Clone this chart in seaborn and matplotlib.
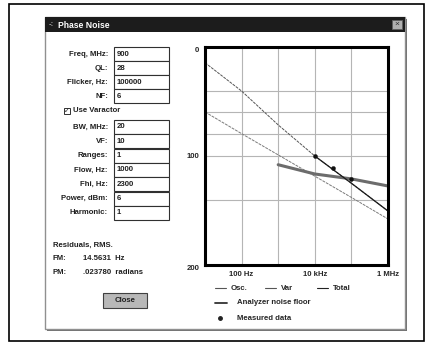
import matplotlib
matplotlib.use("Agg")
import matplotlib.pyplot as plt
from matplotlib.patches import Rectangle
import seaborn as sns

# values (y = dB below carrier, 0 at top, 200 at bottom)
freq = [10, 100, 1000, 10000, 100000, 1000000]
osc = [14.4, 40.4, 71.5, 100, 125, 150.5]
var = [59.6, 79.5, 99, 118.5, 138, 157.8]
total_freq = [10000, 100000, 1000000]
total = [100, 125, 150.5]
floor_freq = [1000, 10000, 100000, 1000000]
floor = [108, 116.5, 121, 127.5]
meas_freq = [10000, 31600, 100000]
meas = [100, 111, 121]

x_ticks = [100, 10000, 1000000]
x_labels = ["100 Hz", "10 kHz", "1 MHz"]
y_ticks = [0, 100, 200]
y_grid = [40, 60, 80, 100, 140]
x_grid = [100, 1000, 10000, 100000]

field_labels = ["Freq, MHz:", "QL:", "Flicker, Hz:", "NF:",
                "BW, MHz:", "VF:", "Ranges:", "Flow, Hz:", "Fhi, Hz:",
                "Power, dBm:", "Harmonic:"]
field_values = ["900", "28", "100000", "6",
                "20", "10", "1", "1000", "2300", "6", "1"]

sns.set_style("white")
plt.rcParams['font.family'] = ['Liberation Sans', 'DejaVu Sans']

W, H = 425, 350
fig = plt.figure(figsize=(W / 100, H / 100), dpi=100)
fig.patch.set_facecolor("white")

# background canvas in pixel units for the dialog chrome
bg = fig.add_axes([0, 0, 1, 1])
bg.set_xlim(0, W)
bg.set_ylim(H, 0)
bg.axis("off")

fs = 5.6
ink = "#202020"
bg.add_patch(Rectangle((9, 4), 415, 337, fill=False, ec="black", lw=1.2))
# dialog window
bg.add_patch(Rectangle((47, 19), 360, 312, fc="#707070", ec="none"))
bg.add_patch(Rectangle((45, 17), 360, 312, fc="white", ec="#909090", lw=1))
bg.add_patch(Rectangle((45, 17), 360, 15, fc="#1c1c1c", ec="none"))
bg.text(49, 25, "-:", color="#bbbbbb", fontsize=fs, va="center", fontweight="bold")
bg.text(58, 25, "Phase Noise", color="white", fontsize=6.2, va="center", fontweight="bold")
bg.add_patch(Rectangle((392, 20), 10, 9, fc="#b0b0b0", ec="#606060", lw=0.6))
bg.text(397, 24.8, "×", fontsize=6, ha="center", va="center", color="#303030")

# form fields
rows = [54 + 14 * i for i in range(4)] + [127 + 14.3 * i for i in range(7)]
for lab, val, yc in zip(field_labels, field_values, rows):
    bg.text(108, yc, lab, ha="right", va="center", fontsize=fs, fontweight="bold", color=ink)
    bg.add_patch(Rectangle((114, yc - 7), 55, 14, fc="white", ec="#303030", lw=0.8))
    bg.text(116.5, yc, val, ha="left", va="center", fontsize=fs, fontweight="bold", color=ink)

bg.add_patch(Rectangle((64, 108), 6, 6, fc="white", ec="#303030", lw=0.7))
bg.text(67, 111, "✓", ha="center", va="center", fontsize=5, family="DejaVu Sans")
bg.text(73, 111, "Use Varactor", va="center", fontsize=fs, fontweight="bold", color=ink)

bg.text(53, 245, "Residuals, RMS.", va="center", fontsize=fs, fontweight="bold", color=ink)
bg.text(53, 259, "FM:", va="center", fontsize=fs, fontweight="bold", color=ink)
bg.text(83, 259, "14.5631  Hz", va="center", fontsize=fs, fontweight="bold", color=ink)
bg.text(53, 273, "PM:", va="center", fontsize=fs, fontweight="bold", color=ink)
bg.text(83, 273, ".023780  radians", va="center", fontsize=fs, fontweight="bold", color=ink)

bg.add_patch(Rectangle((103, 293), 44, 15, fc="#b8b8b8", ec="#404040", lw=0.8))
bg.text(125, 300.5, "Close", ha="center", va="center", fontsize=fs, fontweight="bold", color=ink)

# legend under the chart
leg_y1, leg_y2, leg_y3 = 288, 303, 318
bg.plot([215, 226], [leg_y1, leg_y1], color="#555555", lw=0.8)
bg.text(231, leg_y1, "Osc.", va="center", fontsize=fs, fontweight="bold")
bg.plot([265, 276], [leg_y1, leg_y1], color="#555555", lw=0.8)
bg.text(281, leg_y1, "Var", va="center", fontsize=fs, fontweight="bold")
bg.plot([317, 328], [leg_y1, leg_y1], color="#222222", lw=0.8)
bg.text(333, leg_y1, "Total", va="center", fontsize=fs, fontweight="bold")
bg.plot([215, 227], [leg_y2, leg_y2], color="#333333", lw=1.3)
bg.text(237, leg_y2, "Analyzer noise floor", va="center", fontsize=fs, fontweight="bold")
bg.plot([220], [leg_y3], "o", color="#222222", ms=2.5)
bg.text(237, leg_y3, "Measured data", va="center", fontsize=fs, fontweight="bold")

# chart
ax = fig.add_axes([205 / W, 1 - 265 / H, 183 / W, 218 / H])
ax.set_facecolor("white")
ax.set_xscale("log")

for g in y_grid:
    ax.axhline(g, color="#b5b5b5", lw=0.8, zorder=0)
for g in x_grid:
    ax.axvline(g, color="#b5b5b5", lw=0.8, zorder=0)

sns.lineplot(x=freq, y=osc, ax=ax, color="#555555", lw=0.7, linestyle=(0, (3, 1)))
sns.lineplot(x=freq, y=var, ax=ax, color="#7a7a7a", lw=0.7, linestyle=(0, (3, 1)))
sns.lineplot(x=floor_freq, y=floor, ax=ax, color="#6c6c6c", lw=2.2)
sns.lineplot(x=total_freq, y=total, ax=ax, color="#1a1a1a", lw=0.9)
sns.scatterplot(x=meas_freq, y=meas, ax=ax, color="#111111", s=9, edgecolor="#111111", zorder=5)

ax.set_xlim(10, 1000000)
ax.set_ylim(200, 0)
ax.set_xticks(x_ticks)
ax.set_xticklabels(x_labels)
ax.set_yticks(y_ticks)
ax.set_yticklabels([str(v) for v in y_ticks])
ax.minorticks_off()
ax.tick_params(length=0, labelsize=fs, pad=4)
for lbl in ax.get_xticklabels() + ax.get_yticklabels():
    lbl.set_fontweight("bold")
for lbl in ax.get_yticklabels():
    if lbl.get_text() != "100":
        lbl.set_va("top")
for s in ax.spines.values():
    s.set_visible(True)
    s.set_color("black")
    s.set_linewidth(2.2)
ax.set_xlabel("")
ax.set_ylabel("")

fig.savefig("out.png", dpi=100, facecolor="white")
